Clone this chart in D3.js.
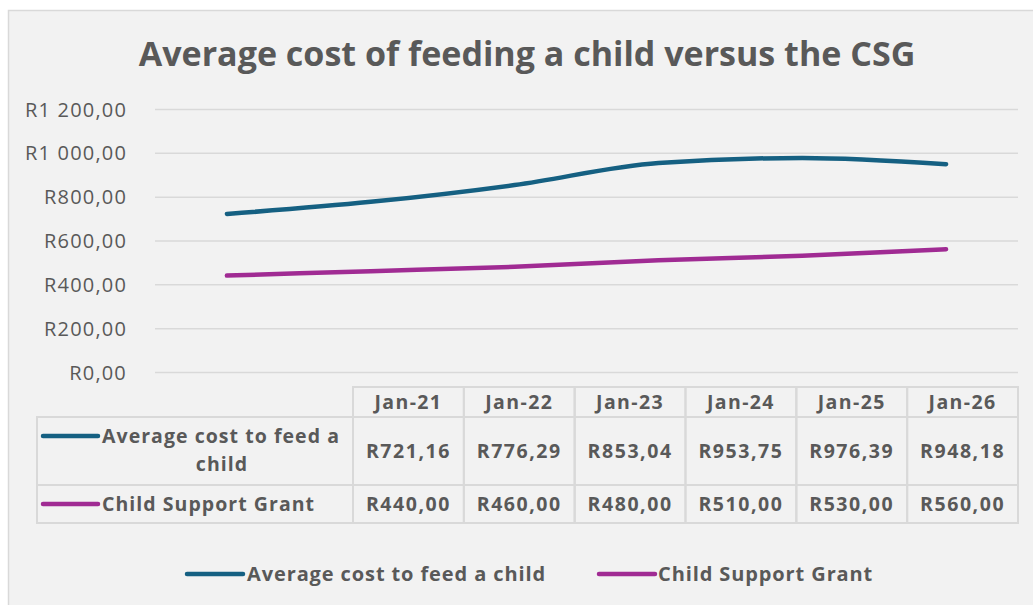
<!DOCTYPE html>
<html>
<head>
<meta charset="utf-8">
<script src="https://cdn.jsdelivr.net/npm/d3@7"></script>
<style>
  html, body { margin: 0; padding: 0; background: #ffffff; }
  svg { display: block; }
  text { font-family: "Open Sans", "Liberation Sans", Arial, sans-serif; fill: #595959; }
</style>
</head>
<body>
<svg id="chart" width="1033" height="605"></svg>
<script>
const title = "Average cost of feeding a child versus the CSG";
const categories = ["Jan-21", "Jan-22", "Jan-23", "Jan-24", "Jan-25", "Jan-26"];
const seriesNames = ["Average cost to feed a child", "Child Support Grant"];
const costValues = [721.16, 776.29, 853.04, 953.75, 976.39, 948.18];
const grantValues = [440, 460, 480, 510, 530, 560];
const yTicks = [0, 200, 400, 600, 800, 1000, 1200];
const colors = ["#156082", "#A02B93"];

const series = [
  { name: seriesNames[0], values: costValues, color: colors[0] },
  { name: seriesNames[1], values: grantValues, color: colors[1] }
];

const locale = d3.formatLocale({ decimal: ",", thousands: " ", grouping: [3], currency: ["R", ""] });
const fmt = locale.format("$,.2f");

const svg = d3.select("#chart");

function fitWidth(sel, target) {
  const w = sel.node().getComputedTextLength();
  const fs = parseFloat(sel.style("font-size"));
  if (w > 0) sel.style("font-size", (fs * target / w) + "px");
  return sel;
}
// letter-spacing needed so that sample text reaches target width
function spacingFor(sample, target) {
  const w = sample.node().getComputedTextLength();
  const n = sample.text().length;
  return Math.max(0, (target - w) / n);
}

svg.append("rect").attr("x", 8.5).attr("y", 10.5).attr("width", 1030).attr("height", 600)
  .attr("fill", "#f2f2f2").attr("stroke", "#d9d9d9").attr("stroke-width", 1.5);

const tt = svg.append("text").attr("x", 527).attr("y", 66).attr("text-anchor", "middle")
  .style("font-size", "30px").style("font-weight", "bold").text(title);
fitWidth(tt, 777);

const plot = { left: 155, right: 1018, top: 109, bottom: 372 };
const x = d3.scaleBand().domain(categories).range([plot.left, plot.right]);
const y = d3.scaleLinear().domain([0, 1200]).range([plot.bottom, plot.top]);

const yAxis = d3.axisLeft(y).tickValues(yTicks).tickSize(-(plot.right - plot.left)).tickPadding(28).tickFormat(fmt);
const gy = svg.append("g").attr("transform", `translate(${plot.left},0)`).call(yAxis);
gy.select(".domain").remove();
gy.selectAll(".tick line").attr("stroke", "#d9d9d9").attr("stroke-width", 1.5);
const tickTexts = gy.selectAll(".tick text").attr("fill", "#595959").style("font-size", "20px")
  .style("font-family", "'Open Sans', 'Liberation Sans', Arial, sans-serif").attr("dy", "0.35em");
{
  const top = tickTexts.filter(d => d === 1200);
  const ls = spacingFor(top, 102);
  tickTexts.style("letter-spacing", ls + "px");
}

const line = d3.line().x((d, i) => x(categories[i]) + x.bandwidth() / 2).y(d => y(d)).curve(d3.curveMonotoneX);
series.forEach(s => {
  svg.append("path").datum(s.values).attr("d", line).attr("fill", "none")
    .attr("stroke", s.color).attr("stroke-width", 4.5).attr("stroke-linecap", "round").attr("stroke-linejoin", "round");
});

// data table
const tbl = { left: 37, colStart: 353, colEnd: 1018, headTop: 387, headBottom: 417, rowBottoms: [485, 523] };
const cx = d3.scaleBand().domain(categories).range([tbl.colStart, tbl.colEnd]);
const gT = svg.append("g");
const gridColor = "#d9d9d9";
const cellFont = "19.5px";
const headTexts = [], valTexts = [], labelTexts = [];
categories.forEach(c => {
  gT.append("rect").attr("x", cx(c)).attr("y", tbl.headTop).attr("width", cx.bandwidth()).attr("height", tbl.headBottom - tbl.headTop)
    .attr("fill", "none").attr("stroke", gridColor).attr("stroke-width", 2);
  headTexts.push(gT.append("text").attr("x", cx(c) + cx.bandwidth() / 2).attr("y", (tbl.headTop + tbl.headBottom) / 2).attr("dy", "0.36em")
    .attr("text-anchor", "middle").style("font-size", cellFont).style("font-weight", "bold").text(c));
});
const rowTops = [tbl.headBottom, tbl.rowBottoms[0]];
series.forEach((s, r) => {
  const top = rowTops[r], bot = tbl.rowBottoms[r];
  gT.append("rect").attr("x", tbl.left).attr("y", top).attr("width", tbl.colStart - tbl.left).attr("height", bot - top)
    .attr("fill", "none").attr("stroke", gridColor).attr("stroke-width", 2);
  categories.forEach((c, i) => {
    gT.append("rect").attr("x", cx(c)).attr("y", top).attr("width", cx.bandwidth()).attr("height", bot - top)
      .attr("fill", "none").attr("stroke", gridColor).attr("stroke-width", 2);
    valTexts.push(gT.append("text").attr("x", cx(c) + cx.bandwidth() / 2).attr("y", (top + bot) / 2).attr("dy", "0.36em")
      .attr("text-anchor", "middle").style("font-size", cellFont).style("font-weight", "bold").text(fmt(s.values[i])));
  });
  const lines = r === 0 ? ["Average cost to feed a", "child"] : [s.name];
  const firstY = r === 0 ? 436 : (top + bot) / 2;
  gT.append("line").attr("x1", 43).attr("x2", 98).attr("y1", firstY).attr("y2", firstY)
    .attr("stroke", s.color).attr("stroke-width", 4.5).attr("stroke-linecap", "round");
  lines.forEach((t, k) => {
    labelTexts.push(gT.append("text").attr("x", k === 0 ? 102 : 222).attr("y", firstY + k * 28).attr("dy", "0.36em")
      .attr("text-anchor", k === 0 ? "start" : "middle")
      .style("font-size", cellFont).style("font-weight", "bold").text(t));
  });
});
{
  const lsH = spacingFor(headTexts[0], 68);
  headTexts.forEach(t => t.style("letter-spacing", lsH + "px"));
  const lsV = spacingFor(valTexts[0], 85);
  valTexts.forEach(t => t.style("letter-spacing", lsV + "px"));
  const lsL = spacingFor(labelTexts[0], 238);
  labelTexts.forEach(t => t.style("letter-spacing", lsL + "px"));
}

// legend
const legendItems = [
  { x1: 187, x2: 243, tx: 247 },
  { x1: 599, x2: 655, tx: 658 }
];
const legTexts = [];
series.forEach((s, i) => {
  const L = legendItems[i];
  svg.append("line").attr("x1", L.x1).attr("x2", L.x2).attr("y1", 574).attr("y2", 574)
    .attr("stroke", s.color).attr("stroke-width", 4.5).attr("stroke-linecap", "round");
  legTexts.push(svg.append("text").attr("x", L.tx).attr("y", 574).attr("dy", "0.36em")
    .style("font-size", "20px").style("font-weight", "bold").text(s.name));
});
{
  const ls = spacingFor(legTexts[0], 299);
  legTexts.forEach(t => t.style("letter-spacing", ls + "px"));
}
</script>
</body>
</html>
